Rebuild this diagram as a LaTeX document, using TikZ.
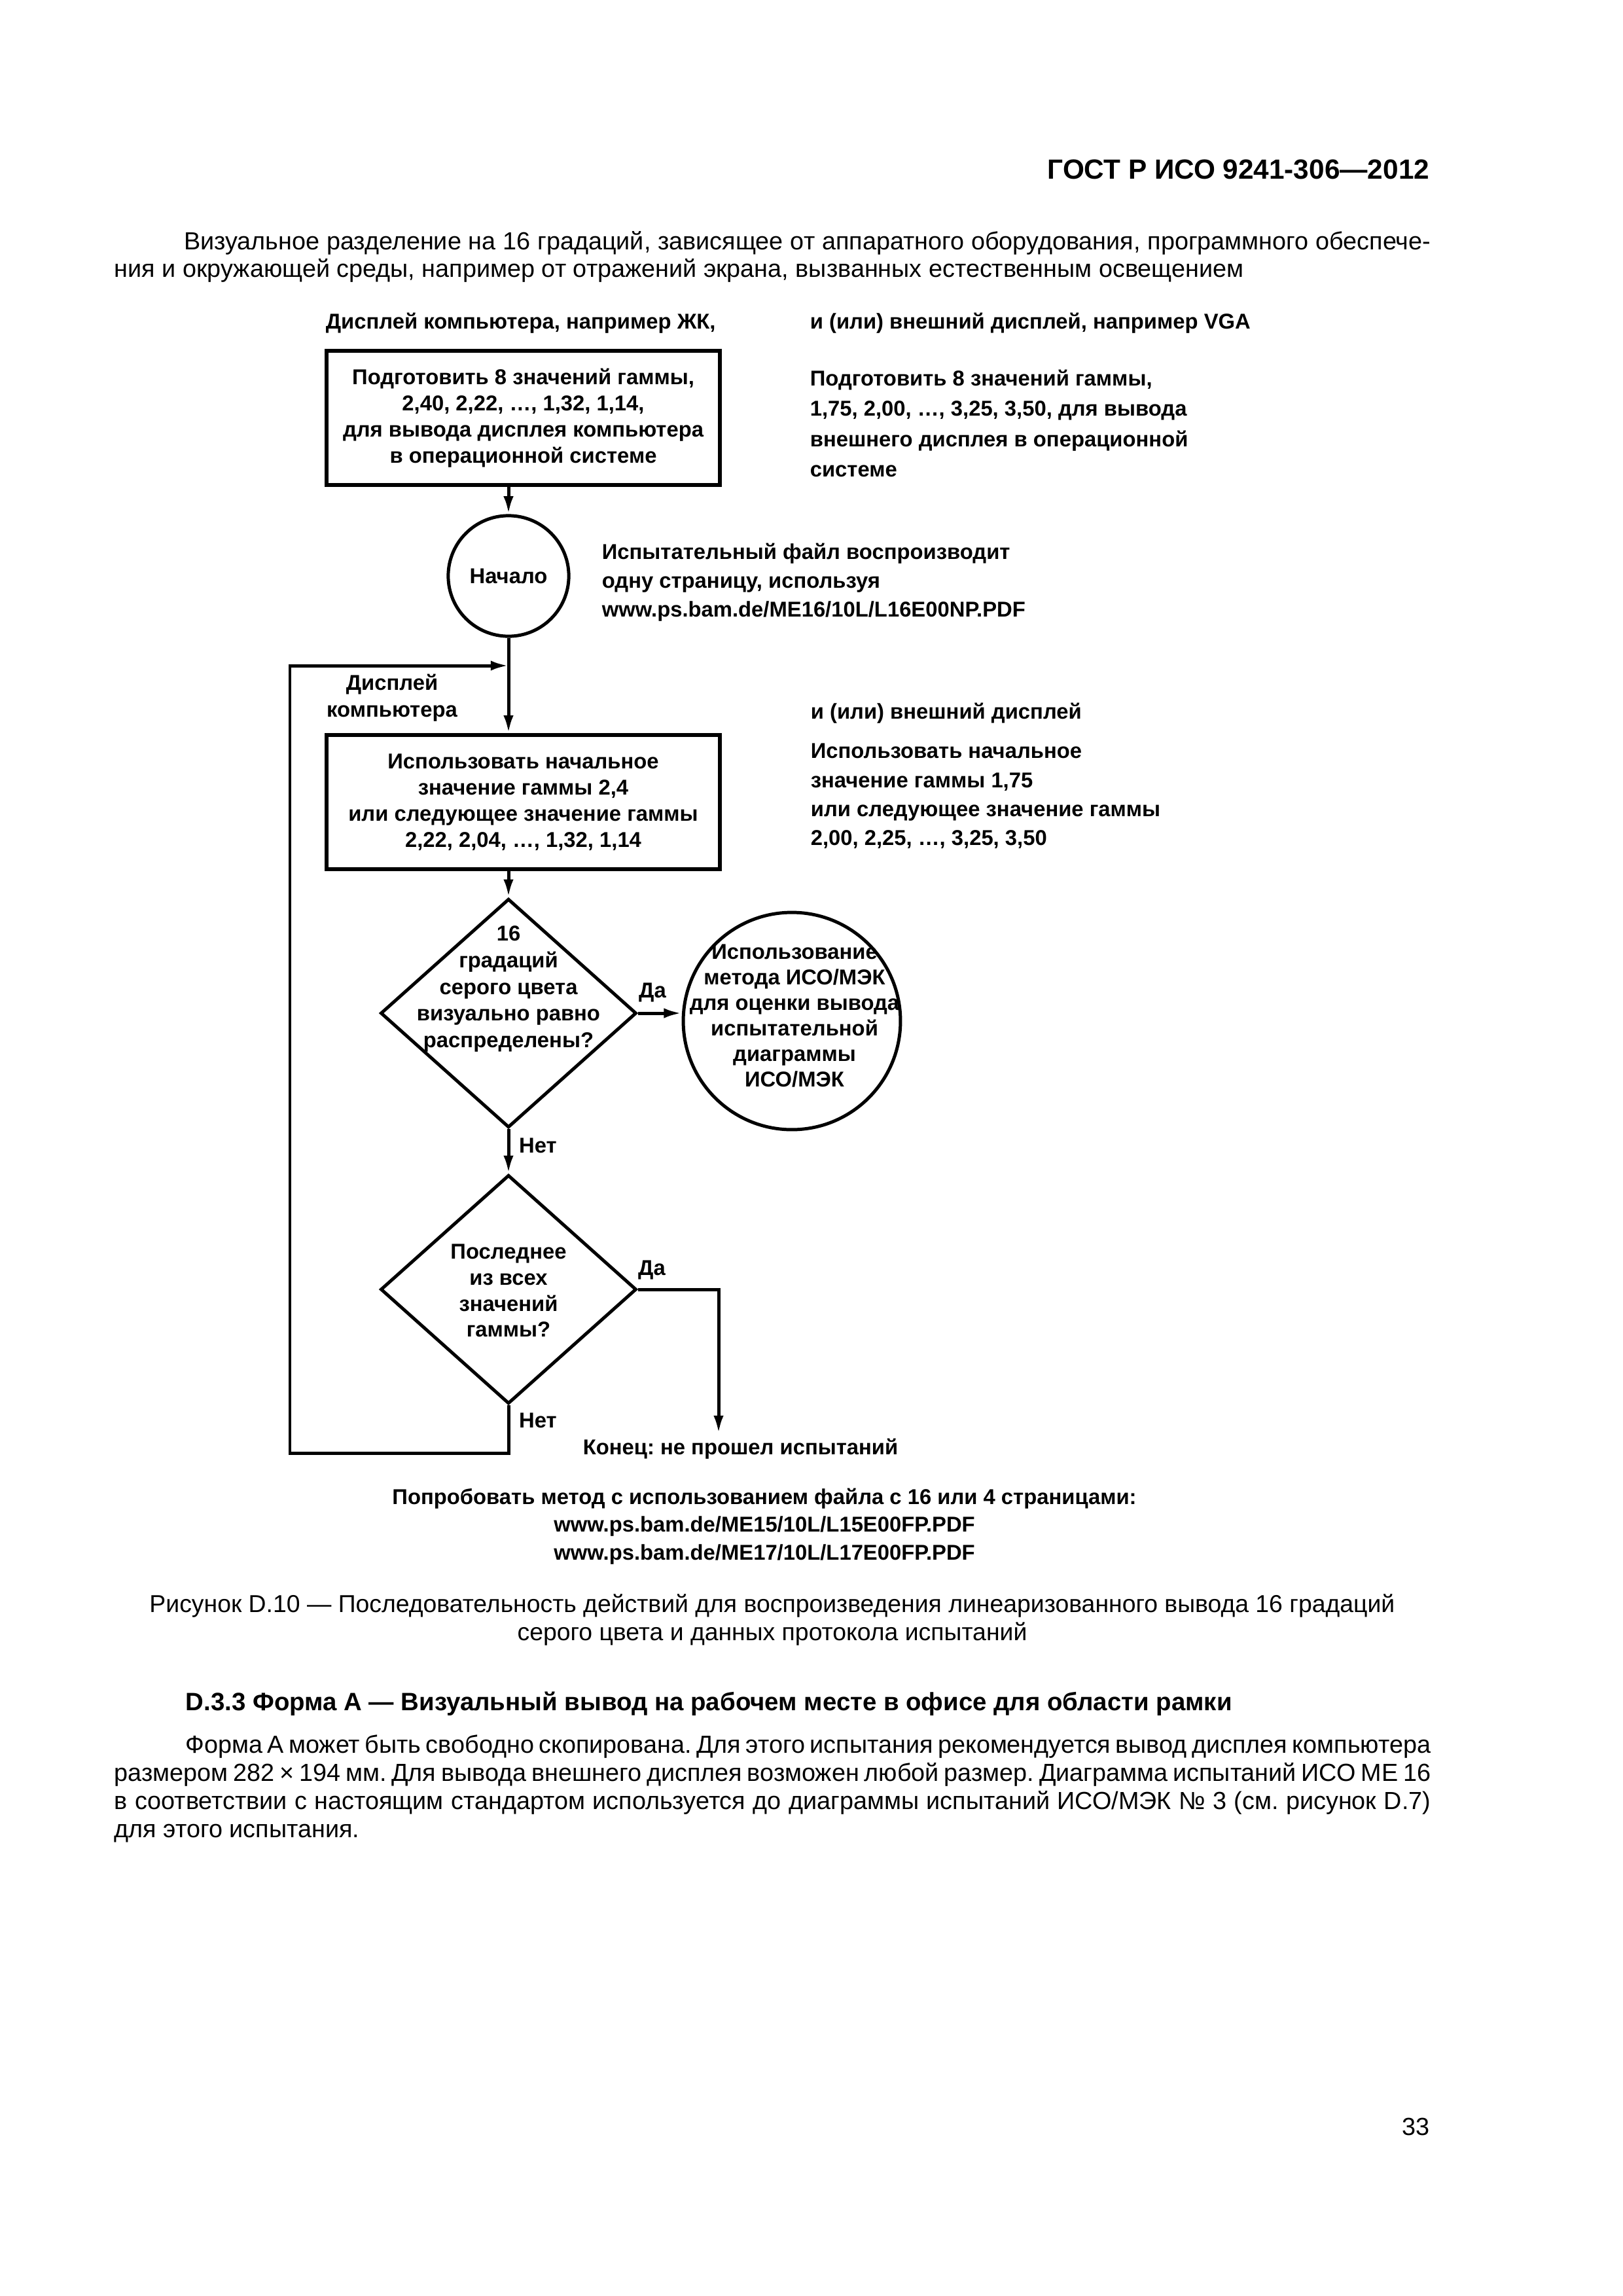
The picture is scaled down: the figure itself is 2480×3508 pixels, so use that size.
\documentclass[tikz,border=0pt]{standalone}
\usepackage{fontspec}
\setmainfont{Liberation Sans}
\usetikzlibrary{shapes.geometric,arrows.meta,positioning}
\frenchspacing

\newcommand{\bodyfont}{\fontsize{9.1}{10.3}\selectfont}
\newcommand{\figfont}{\fontsize{7.9}{9.6}\selectfont\bfseries}

\begin{document}
\begin{tikzpicture}[x=0.084677mm, y=-0.084677mm,
    arr/.style={line width=1.2pt, -{Latex[length=2.3mm,width=1.3mm]}},
    box/.style={draw, line width=1.5pt, minimum width=50.9mm, minimum height=17.3mm, align=center, font=\figfont, inner sep=0pt},
    term/.style={draw, circle, line width=1.2pt, inner sep=0pt, align=center, font=\figfont},
    decision/.style={draw, diamond, line width=1.2pt, minimum width=33.1mm, minimum height=29.6mm, inner sep=0pt},
    lbl/.style={font=\figfont, inner sep=0pt},
    para/.style={font=\bodyfont, inner sep=0pt, text width=170.3mm, align=justify, anchor=west},
  ]
  \useasboundingbox[fill=white] (0,0) rectangle (2480,3508);

  % page text
  \node[font=\fontsize{10.2}{12}\selectfont\bfseries, anchor=east, inner sep=0pt] (gost) at (2185,259) {ГОСТ Р ИСО 9241-306—2012};
  \node[para] (intro) at (174,392.5) {\hspace*{9mm}Визуальное разделение на 16 градаций, зависящее от аппаратного оборудования, программного обеспече-\linebreak ния и окружающей среды, например от отражений экрана, вызванных естественным освещением};

  % figure
  \node[lbl, anchor=west] (lcdlbl) at (497,494) {Дисплей компьютера, например ЖК,};
  \node[lbl, anchor=west] (vgalbl) at (1237,494) {и (или) внешний дисплей, например VGA};

  \node[box] (prep) at (799.5,638.5) {Подготовить 8 значений гаммы,\\2,40, 2,22, …, 1,32, 1,14,\\для вывода дисплея компьютера\\в операционной системе};
  \node[lbl, anchor=west, align=left, font=\fontsize{7.9}{11.2}\selectfont\bfseries] (prepext) at (1237,647) {Подготовить 8 значений гаммы,\\1,75, 2,00, …, 3,25, 3,50, для вывода\\внешнего дисплея в операционной\\системе};

  \node[term, minimum size=15.6mm] (start) at (777,880) {Начало};
  \node[lbl, anchor=west, align=left, font=\fontsize{7.9}{10.6}\selectfont\bfseries] (file) at (919,890) {Испытательный файл воспроизводит\\одну страницу, используя\\www.ps.bam.de/ME16/10L/L16E00NP.PDF};

  \coordinate (merge) at (777,1017);
  \node[lbl, align=center, font=\fontsize{7.9}{9.8}\selectfont\bfseries] (lcd) at (599,1066) {Дисплей\\компьютера};
  \node[lbl, anchor=west] (extlbl) at (1238,1090) {и (или) внешний дисплей};

  \node[box] (use) at (799.5,1225.5) {Использовать начальное\\значение гаммы 2,4\\или следующее значение гаммы\\2,22, 2,04, …, 1,32, 1,14};
  \node[lbl, anchor=west, align=left, font=\fontsize{7.9}{10.7}\selectfont\bfseries] (useext) at (1238,1216.5) {Использовать начальное\\значение гаммы 1,75\\или следующее значение гаммы\\2,00, 2,25, …, 3,25, 3,50};

  \node[decision] (equal) at (777,1548) {};
  \node[lbl, align=center, font=\fontsize{7.9}{9.8}\selectfont\bfseries] (equaltxt) at (777,1511) {16\\градаций\\серого цвета\\визуально равно\\распределены?};
  \node[lbl] (yes1) at (997,1516) {Да};
  \node[term, minimum size=28.1mm] (iso) at (1210,1560) {};
  \node[lbl, align=center, font=\fontsize{7.9}{9.4}\selectfont\bfseries] (isotxt) at (1214,1552) {Использование\\метода ИСО/МЭК\\для оценки вывода\\испытательной\\диаграммы\\ИСО/МЭК};
  \node[lbl] (no1) at (822,1750) {Нет};

  \node[decision] (last) at (777,1970) {};
  \node[lbl, align=center] (lasttxt) at (777,1972) {Последнее\\из всех\\значений\\гаммы?};
  \node[lbl] (yes2) at (996,1940) {Да};
  \node[lbl] (no2) at (822,2170) {Нет};
  \coordinate (endtip) at (1098,2190);
  \node[lbl, anchor=north west] (fail) at (890,2197) {Конец: не прошел испытаний};
  \coordinate (loop) at (443,2220);

  \node[lbl, align=center, font=\fontsize{7.9}{10.2}\selectfont\bfseries] (retry) at (1168,2332) {Попробовать метод с использованием файла с 16 или 4 страницами:\\www.ps.bam.de/ME15/10L/L15E00FP.PDF\\www.ps.bam.de/ME17/10L/L17E00FP.PDF};

  % connectors
  \draw[arr] (start |- prep.south) -- (start.north);
  \draw[arr] (start.south) -- (start |- use.north);
  \draw[arr] (start |- use.south) -- (equal.north);
  \draw[arr] (equal.east) -- (equal.east -| iso.west);
  \draw[arr] (equal.south) -- (last.north);
  \draw[arr] (last.east) -| (endtip);
  \draw[arr] (last.south) |- (loop) |- (merge);

  % caption and following text
  \node[font=\fontsize{9}{10.5}\selectfont, align=center, inner sep=0pt] (capt) at (1180,2475) {Рисунок D.10 — Последовательность действий для воспроизведения линеаризованного вывода 16 градаций\\серого цвета и данных протокола испытаний};
  \node[font=\fontsize{9.25}{10.3}\selectfont\bfseries, anchor=west, inner sep=0pt] (sect) at (283,2603) {D.3.3 Форма А — Визуальный вывод на рабочем месте в офисе для области рамки};
  \node[para] (forma) at (174,2733) {\hspace*{9.2mm}Форма А может быть свободно скопирована. Для этого испытания рекомендуется вывод дисплея компьютера\linebreak размером 282 × 194 мм. Для вывода внешнего дисплея возможен любой размер. Диаграмма испытаний ИСО ME 16\linebreak в соответствии с настоящим стандартом используется до диаграммы испытаний ИСО/МЭК № 3 (см. рисунок D.7)\linebreak для этого испытания.};
  \node[font=\bodyfont, anchor=east, inner sep=0pt] (pgno) at (2185,3249) {33};
\end{tikzpicture}
\end{document}
